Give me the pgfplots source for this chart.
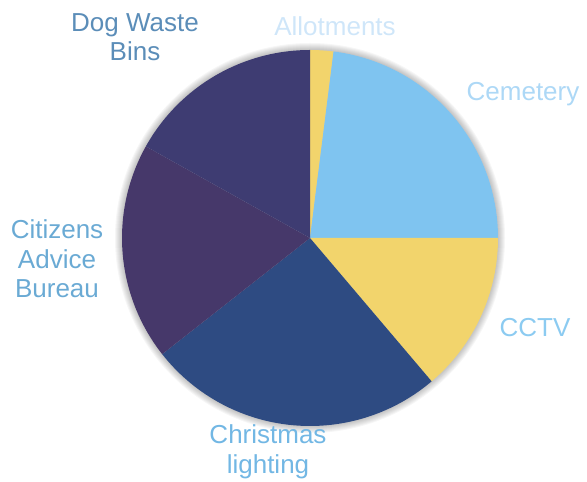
\documentclass[border=0pt]{standalone}
\usepackage{pgfplots}
\pgfplotsset{compat=1.18}
\usepackage{pgfplotstable}
\usepackage{fontspec}
\setmainfont{Liberation Sans}

\definecolor{cYellow}{HTML}{F2D46C}
\definecolor{cCem}{HTML}{7FC4F0}
\definecolor{cXmas}{HTML}{2E4B82}
\definecolor{cCab}{HTML}{46386A}
\definecolor{cDog}{HTML}{3E3C72}

\definecolor{tDog}{HTML}{5B8DB8}
\definecolor{tAllot}{HTML}{CFE6F9}
\definecolor{tCem}{HTML}{ADD8F6}
\definecolor{tCctv}{HTML}{8CCBF1}
\definecolor{tXmas}{HTML}{72B7E4}
\definecolor{tCab}{HTML}{6AAAD4}

% share of each slice (percent), clockwise from 12 o'clock
\pgfplotstableread{
label      value  color
Allotments 2.0    cYellow
Cemetery   23.0   cCem
CCTV       13.8   cYellow
Christmas  25.6   cXmas
Citizens   18.7   cCab
DogWaste   16.9   cDog
}\piedata

\newcommand\cx{310}
\newcommand\cy{244}
\newcommand\rr{188}

\begin{document}
\begin{tikzpicture}
\begin{axis}[
    x=1bp, y=1bp,
    xmin=0, xmax=587, ymin=0, ymax=482,
    axis lines=none, ticks=none,
    clip=false,
    font=\fontsize{26bp}{29.5bp}\selectfont,
]
% soft shadow
\pgfplotsforeachungrouped \k in {1,...,7}{%
  \edef\sh{\noexpand\fill[black, opacity=0.035] (axis cs:\cx,\cy) circle[radius=\rr+\k];}
  \sh
}
\def\start{90}
\pgfplotsforeachungrouped \i in {0,...,5}{%
  \pgfplotstablegetelem{\i}{value}\of\piedata \let\v\pgfplotsretval
  \pgfplotstablegetelem{\i}{color}\of\piedata \let\c\pgfplotsretval
  \pgfmathsetmacro\stop{\start-3.6*\v}
  \edef\slice{\noexpand\fill[\c] (axis cs:{\cx+\rr*cos(\start)},{\cy+\rr*sin(\start)})
     arc[start angle=\start, end angle=\stop, radius=\rr] -- (axis cs:\cx,\cy) -- cycle;}
  \slice
  \let\start\stop
}
\node[text=tDog, align=center] at (axis cs:135,445) {Dog Waste\\Bins};
\node[text=tAllot] at (axis cs:335,456) {Allotments};
\node[text=tCem] at (axis cs:523,388) {Cemetery};
\node[text=tCctv] at (axis cs:535,154) {CCTV};
\node[text=tXmas, align=center] at (axis cs:268,30) {Christmas\\lighting};
\node[text=tCab, align=center] at (axis cs:57,223) {Citizens\\Advice\\Bureau};
\end{axis}
\pgfresetboundingbox
\path (current axis.south west) rectangle (current axis.north east);
\end{tikzpicture}
\end{document}
